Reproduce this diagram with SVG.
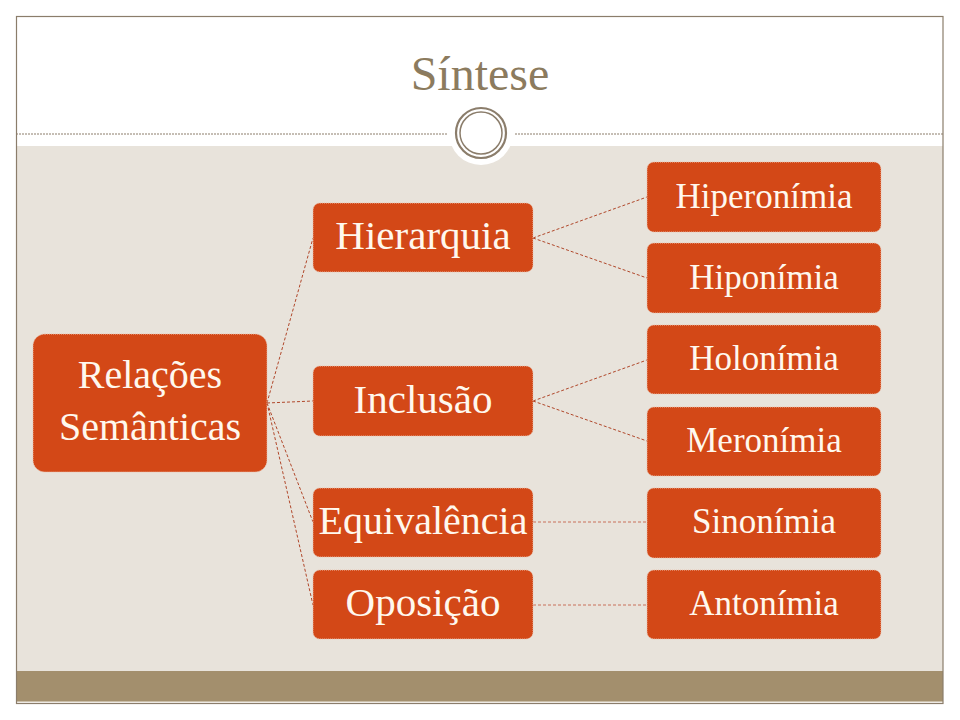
<svg xmlns="http://www.w3.org/2000/svg" width="960" height="720" viewBox="0 0 960 720">
<style>
.box{fill:#D34817;stroke:#EBC2AE;stroke-width:1;stroke-dasharray:1 1}
.t{font-family:"Liberation Serif","Times New Roman",serif;fill:#FFF8EE;text-anchor:middle}
.l2{font-size:41px}
.l3{font-size:35px}
.l1{font-size:40px}
.c{fill:none;stroke:#B0472A;stroke-width:1;stroke-dasharray:3 2}
.ch{fill:none;stroke:#C8705A;stroke-width:1;stroke-dasharray:3 2}
</style>
<rect x="0" y="0" width="960" height="720" fill="#FFFFFF"/>
<rect x="16" y="146" width="927" height="525" fill="#E8E3DB"/>
<rect x="16" y="671" width="927" height="31" fill="#A38F6D"/>
<line x1="16" y1="702" x2="943" y2="702" stroke="#F2EEE6" stroke-width="1"/>
<rect x="16.5" y="16.5" width="926.5" height="687" fill="none" stroke="#8B7D6B" stroke-width="1.2"/>
<line x1="16" y1="134" x2="447" y2="134" stroke="#8B7D6B" stroke-width="1" stroke-dasharray="2 1"/>
<line x1="515" y1="134" x2="943" y2="134" stroke="#8B7D6B" stroke-width="1" stroke-dasharray="2 1"/>
<circle cx="481" cy="133" r="32" fill="#FFFFFF"/>
<circle cx="481" cy="133" r="25" fill="none" stroke="#8B7D6B" stroke-width="2.2"/>
<circle cx="481" cy="133" r="21" fill="none" stroke="#8B7D6B" stroke-width="1.5"/>
<text x="480" y="90" font-family="Liberation Serif, Times New Roman, serif" font-size="48" fill="#8C7B5E" text-anchor="middle">Síntese</text>

<g id="connectors">
<line class="c" x1="267" y1="403" x2="313" y2="238"/>
<line class="c" x1="267" y1="403" x2="313" y2="401"/>
<line class="c" x1="267" y1="403" x2="313" y2="522"/>
<line class="c" x1="267" y1="403" x2="313" y2="605"/>
<line class="c" x1="533" y1="238" x2="647" y2="197"/>
<line class="c" x1="533" y1="238" x2="647" y2="278"/>
<line class="c" x1="533" y1="401" x2="647" y2="360"/>
<line class="c" x1="533" y1="401" x2="647" y2="441"/>
<line class="ch" x1="533" y1="522" x2="647" y2="522"/>
<line class="ch" x1="533" y1="605" x2="647" y2="605"/>
</g>

<g id="relacoes">
<rect class="box" x="33" y="334" width="234" height="138" rx="12"/>
<text class="t l1" x="150" y="388">Relações</text>
<text class="t l1" x="150" y="440">Semânticas</text>
</g>
<g id="hierarquia">
<rect class="box" x="313" y="203" width="220" height="69" rx="7"/>
<text class="t l2" x="423" y="249">Hierarquia</text>
</g>
<g id="inclusao">
<rect class="box" x="313" y="366" width="220" height="70" rx="7"/>
<text class="t l2" x="423" y="413">Inclusão</text>
</g>
<g id="equivalencia">
<rect class="box" x="313" y="488" width="220" height="69" rx="7"/>
<text class="t" x="423" y="534" font-size="40">Equivalência</text>
</g>
<g id="oposicao">
<rect class="box" x="313" y="570" width="220" height="69" rx="7"/>
<text class="t l2" x="423" y="616">Oposição</text>
</g>
<g id="hiperonimia">
<rect class="box" x="647" y="162" width="234" height="70" rx="7"/>
<text class="t l3" x="764" y="208">Hiperonímia</text>
</g>
<g id="hiponimia">
<rect class="box" x="647" y="243" width="234" height="70" rx="7"/>
<text class="t l3" x="764" y="289">Hiponímia</text>
</g>
<g id="holonimia">
<rect class="box" x="647" y="325" width="234" height="69" rx="7"/>
<text class="t l3" x="764" y="370">Holonímia</text>
</g>
<g id="meronimia">
<rect class="box" x="647" y="407" width="234" height="69" rx="7"/>
<text class="t l3" x="764" y="452">Meronímia</text>
</g>
<g id="sinonimia">
<rect class="box" x="647" y="488" width="234" height="70" rx="7"/>
<text class="t l3" x="764" y="533">Sinonímia</text>
</g>
<g id="antonimia">
<rect class="box" x="647" y="570" width="234" height="69" rx="7"/>
<text class="t l3" x="764" y="615">Antonímia</text>
</g>
</svg>
